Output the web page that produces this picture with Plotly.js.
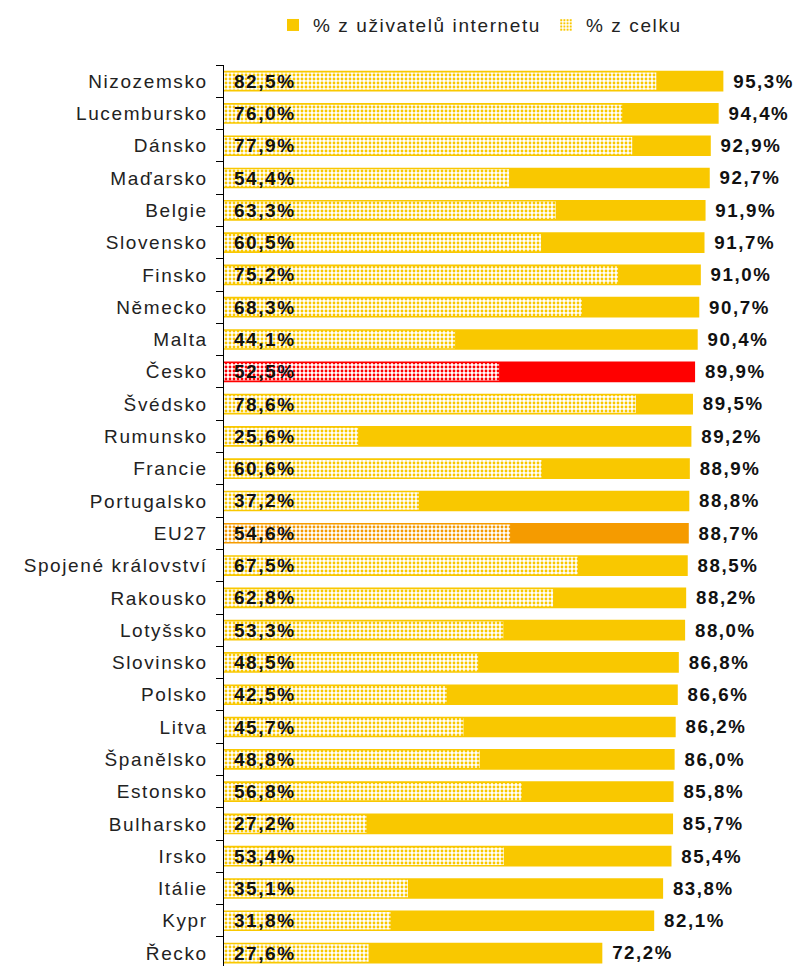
<!DOCTYPE html>
<html><head><meta charset="utf-8">
<script src="https://cdn.plot.ly/plotly-3.0.1.min.js"></script>
<style>body{margin:0;background:#fff}#c{width:800px;height:966px}svg text{letter-spacing:1.6px}</style>
</head><body><div id="c"></div>
<script>
const countries = ["Nizozemsko","Lucembursko","Dánsko","Maďarsko","Belgie","Slovensko","Finsko","Německo","Malta","Česko","Švédsko","Rumunsko","Francie","Portugalsko","EU27","Spojené království","Rakousko","Lotyšsko","Slovinsko","Polsko","Litva","Španělsko","Estonsko","Bulharsko","Irsko","Itálie","Kypr","Řecko"];
const internetUsers = [95.3,94.4,92.9,92.7,91.9,91.7,91.0,90.7,90.4,89.9,89.5,89.2,88.9,88.8,88.7,88.5,88.2,88.0,86.8,86.6,86.2,86.0,85.8,85.7,85.4,83.8,82.1,72.2];
const totalPop = [82.5,76.0,77.9,54.4,63.3,60.5,75.2,68.3,44.1,52.5,78.6,25.6,60.6,37.2,54.6,67.5,62.8,53.3,48.5,42.5,45.7,48.8,56.8,27.2,53.4,35.1,31.8,27.6];
const seriesNames = ["% z uživatelů internetu","% z celku"];

const YELLOW = "#F9C800", RED = "#FF0000", ORANGE = "#F59B00";
const colors = countries.map(c => c === "Česko" ? RED : (c === "EU27" ? ORANGE : YELLOW));
const FONT = "Liberation Sans, Arial, sans-serif";

const traces = [
  {
    type: "bar", orientation: "h", name: seriesNames[0],
    y: countries, x: internetUsers, width: 0.64,
    marker: {color: colors, line: {width: 0}},
    texttemplate: " %{x:.1f}%", textposition: "outside", cliponaxis: false,
    textfont: {family: FONT, size: 19, color: "#111", weight: "bold"},
    hoverinfo: "skip"
  },
  {
    type: "bar", orientation: "h", name: seriesNames[1],
    y: countries, x: totalPop, width: 0.54,
    marker: {color: "#FFFFFF", line: {width: 0},
      pattern: {shape: ".", fillmode: "replace", bgcolor: "#FFFFFF", fgcolor: colors, size: 4, solidity: 0.4}},
    texttemplate: " %{x:.1f}%", textposition: "inside", insidetextanchor: "start", constraintext: "none",
    textfont: {family: FONT, size: 19, color: "#111", weight: "bold"},
    hoverinfo: "skip"
  }
];

const layout = {
  width: 800, height: 966,
  margin: {l: 224, r: 52, t: 65, b: 0},
  barmode: "overlay",
  separators: ", ",
  paper_bgcolor: "#fff", plot_bgcolor: "#fff",
  font: {family: FONT, size: 19, color: "#222"},
  showlegend: true,
  legend: {orientation: "h", x: 0.6, xanchor: "center", xref: "container", y: 0.974, yanchor: "middle", yref: "container",
           font: {size: 19, color: "#222"}, traceorder: "normal"},
  xaxis: {range: [0, 100], visible: false, fixedrange: true},
  yaxis: {type: "category", range: [27.4, -0.5], showline: true, linecolor: "#000", linewidth: 1.5,
          ticks: "outside", ticklen: 7, tickcolor: "#000", tickson: "boundaries",
          ticklabelstandoff: 11, showgrid: false, zeroline: false,
          tickfont: {size: 19, color: "#222"}}
};
Plotly.newPlot("c", traces, layout, {displayModeBar: false, staticPlot: true});
</script>
</body></html>
